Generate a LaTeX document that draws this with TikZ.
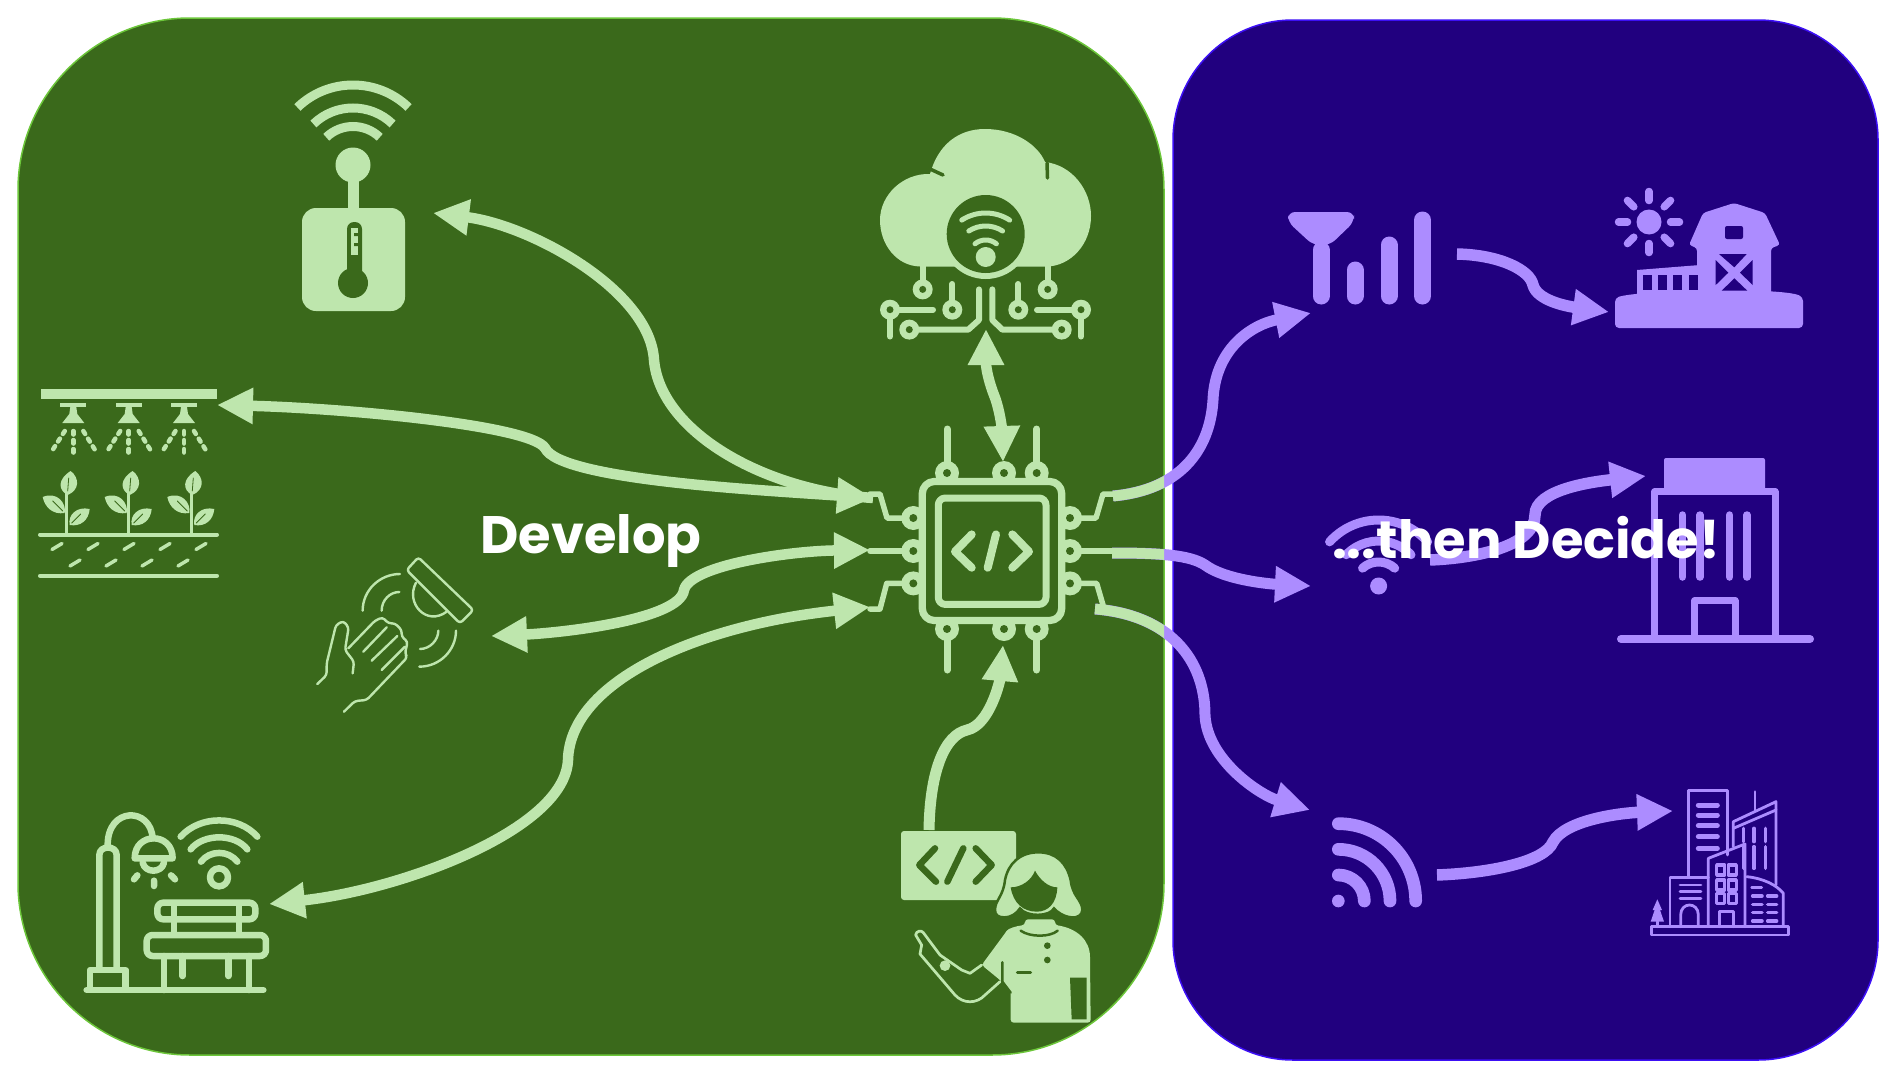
\documentclass[tikz,border=0pt]{standalone}
\usepackage{fontspec}
\usetikzlibrary{arrows.meta,positioning}
\newfontfamily\labelfont{Poppins}
\definecolor{leaf}{HTML}{BEE6AD}
\definecolor{field}{HTML}{3A691B}
\definecolor{fieldedge}{HTML}{6CC63A}
\definecolor{dusk}{HTML}{21007F}
\definecolor{duskedge}{HTML}{3C0FF5}
\definecolor{lilac}{HTML}{AC8CFF}
\tikzset{
  greenpanel/.style={draw=fieldedge,fill=field,line width=1.5pt,rounded corners=172pt,inner sep=0pt},
  bluepanel/.style={draw=duskedge,fill=dusk,line width=1.5pt,rounded corners=120pt,inner sep=0pt},
  headline/.style={text=white,font=\labelfont\bfseries\fontsize{52.7}{56}\selectfont,inner sep=0pt},
  greenlink/.style={draw=leaf,line width=10.5pt},
  purplelink/.style={draw=lilac,line width=11pt},
  tipend/.style={-{Triangle[length=36pt,width=34pt]}},
  tipboth/.style={{Triangle[length=36pt,width=34pt]}-{Triangle[length=36pt,width=34pt]}},
  gline/.style={draw=leaf,line cap=round,line join=round},
  pline/.style={draw=lilac,line cap=round,line join=round},
  dline/.style={draw=field,line cap=round,line join=round},
}
\newcommand{\sigpath}{(chipright1) .. controls (1180,490) and (1210,450) .. (1213,400) .. controls (1215,350) and (1250,325) .. (signaltip)}
\newcommand{\wifipath}{(chipright2) .. controls (1160,553) and (1190,555) .. (1205,565) .. controls (1225,580) and (1270,584) .. (wifitip)}
\newcommand{\rsspath}{(chipright3) .. controls (1170,615) and (1205,660) .. (1205,715) .. controls (1207,760) and (1260,795) .. (rsstip)}
\begin{document}
\begin{tikzpicture}[x=1pt,y=-1pt]
  \useasboundingbox (0,0) rectangle (1896,1076);
  \node[greenpanel,minimum width=1146pt,minimum height=1037pt] (devpanel) at (591,536.5) {};
  \node[bluepanel,minimum width=705pt,minimum height=1040pt] (decpanel) at (1525.5,540) {};

  \coordinate (chipleft1) at (873,498);
  \coordinate (chipleft2) at (870,550);
  \coordinate (chipleft3) at (870,607);
  \coordinate (chiptop) at (1003,462);
  \coordinate (chipbottom) at (1003,645);
  \coordinate (chipright1) at (1113,496);
  \coordinate (chipright2) at (1112,553);
  \coordinate (chipright3) at (1095,609);
  \coordinate (thermotip) at (433,213);
  \coordinate (sprinklertip) at (217,405);
  \coordinate (handtip) at (491,636);
  \coordinate (benchtip) at (269,904);
  \coordinate (cloudtip) at (986,329);
  \coordinate (boxtop) at (929,830);
  \coordinate (signaltip) at (1311,313);
  \coordinate (wifitip) at (1311,586);
  \coordinate (rsstip) at (1310,810);
  \coordinate (signalout) at (1457,254);
  \coordinate (barntip) at (1609,312);
  \coordinate (wifiout) at (1430,560);
  \coordinate (officetip) at (1646,476);
  \coordinate (rssout) at (1437,875);
  \coordinate (citytip) at (1673,811);

  \draw[greenlink,tipend] (chipleft1) .. controls (760,490) and (660,430) .. (654,360) .. controls (650,290) and (530,225) .. (thermotip);
  \draw[greenlink,tipboth] (sprinklertip) .. controls (340,408) and (530,425) .. (545,448) .. controls (560,480) and (760,490) .. (chipleft1);
  \draw[greenlink,tipboth] (handtip) .. controls (560,633) and (680,620) .. (684,590) .. controls (690,565) and (790,551) .. (chipleft2);
  \draw[greenlink,tipboth] (benchtip) .. controls (400,890) and (565,830) .. (568,760) .. controls (570,680) and (700,625) .. (chipleft3);
  \draw[greenlink,tipboth] (cloudtip) .. controls (986,370) and (990,385) .. (994,395) .. controls (1000,410) and (1002,430) .. (chiptop);
  \draw[greenlink,tipend,line width=11pt] (boxtop) .. controls (930,770) and (945,735) .. (967,730) .. controls (990,725) and (1000,680) .. (chipbottom);

  \draw[purplelink,tipend] \sigpath;
  \draw[purplelink,tipend] \wifipath;
  \draw[purplelink,tipend] \rsspath;
  \begin{scope}
    \clip (0,0) rectangle (1164,1076);
    \draw[greenlink] \sigpath;
    \draw[greenlink] \wifipath;
    \draw[greenlink] \rsspath;
  \end{scope}
  \draw[purplelink,tipend,line width=11.5pt] (signalout) .. controls (1500,255) and (1530,270) .. (1533,285) .. controls (1537,300) and (1565,306) .. (barntip);
  \draw[purplelink,tipend,line width=11.5pt] (wifiout) .. controls (1480,558) and (1535,545) .. (1535,515) .. controls (1535,490) and (1590,482) .. (officetip);
  \draw[purplelink,tipend,line width=11.5pt] (rssout) .. controls (1490,873) and (1545,862) .. (1553,842) .. controls (1565,820) and (1620,813) .. (citytip);

  % thermometer
  \foreach \r in {80,57,38.5}
    \draw[draw=leaf,line width=9pt] (353,165) ++(226:\r) arc[start angle=226,end angle=314,radius=\r];
  \fill[leaf] (353,165) circle[radius=17.5];
  \fill[leaf] (348,165) rectangle (359,210);
  \fill[leaf,rounded corners=14pt] (302,208) rectangle (405,311);
  \fill[field,rounded corners=7pt] (347,222) rectangle (362,285);
  \fill[field] (353,283) circle[radius=15];
  \fill[leaf] (351,228) rectangle (358,255);
  \fill[field] (354,233) rectangle (358,236) (354,243) rectangle (358,246);

  % sprinkler
  \fill[leaf] (41,389) rectangle (217,399);
  \foreach \x in {73.3,128.7,184} {
    \fill[leaf] ({\x-13},403) rectangle ({\x+13},407);
    \fill[leaf] ({\x-3},407) -- ({\x+3},407) -- ({\x+4},414) -- ({\x+11},423) -- ({\x-11},423) -- ({\x-4},414) -- cycle;
    \draw[gline,line width=4.5pt,dash pattern=on 3.5pt off 5.5pt] (\x,431) -- (\x,453);
    \draw[gline,line width=4.5pt,dash pattern=on 3.5pt off 5.5pt] ({\x-8.5},431) -- ({\x-22},452);
    \draw[gline,line width=4.5pt,dash pattern=on 3.5pt off 5.5pt] ({\x+10},431) -- ({\x+23},452);
  }
  \foreach \x in {66.7,128.7,191.3} {
    \draw[draw=leaf,line width=3pt] (\x,490) -- (\x,534);
    \fill[leaf] ({\x+4},471) .. controls ({\x+13},478) and ({\x+13},490) .. ({\x+1},495) .. controls ({\x-9},490) and ({\x-9},479) .. ({\x+4},471) -- cycle;
    \fill[leaf] ({\x-24},497) .. controls ({\x-10},491) and ({\x},503) .. ({\x-2},513) .. controls ({\x-14},515) and ({\x-22},507) .. ({\x-24},497) -- cycle;
    \fill[leaf] ({\x+23},509) .. controls ({\x+10},506) and ({\x+1},515) .. ({\x+3},525) .. controls ({\x+14},527) and ({\x+22},520) .. ({\x+23},509) -- cycle;
    \draw[dline,line width=.8pt] ({\x-14},501) -- ({\x-4},511) ({\x+14},514) -- ({\x+5},523) ({\x+2},478) -- ({\x+1},491);
  }
  \draw[gline,line width=4pt] (40,534.6) -- (217,534.6) (40,575.7) -- (217,575.7);
  \foreach \x in {57,93,129,165,201}
    \draw[gline,line width=3.5pt] ({\x-5},549.5) -- ({\x+5},543.5);
  \foreach \x in {75,111,147,183}
    \draw[gline,line width=3.5pt] ({\x-5},566) -- ({\x+5},560);

  % hand
  \begin{scope}[shift={(60,540)},scale=1/3]
    \draw[gline,line width=2.4pt,rounded corners=3pt] (1075,52) -- (1240,210) -- (1200,250) -- (1040,90) -- cycle;
    \draw[gline,line width=2.4pt] (1068,128) .. controls (1035,190) and (1100,260) .. (1160,215);
    \draw[gline,line width=2.4pt] (1020,102) .. controls (960,102) and (908,150) .. (908,212);
    \draw[gline,line width=2.4pt] (1018,156) .. controls (990,156) and (965,180) .. (965,212);
    \draw[gline,line width=2.4pt] (1078,380) .. controls (1140,380) and (1188,330) .. (1188,272);
    \draw[gline,line width=2.4pt] (1080,327) .. controls (1110,327) and (1135,300) .. (1135,272);
    \draw[gline,line width=2.4pt,rounded corners=3pt] (772,432) -- (800,405) -- (800,370) -- (828,255) -- (850,243) -- (866,262) -- (855,330) -- (882,365) -- (878,400);
    \draw[gline,line width=2.4pt,rounded corners=3pt] (865,325) -- (945,242) -- (968,232) -- (985,250) -- (1005,250) -- (1025,270) -- (1025,290) -- (1043,305) -- (1035,340) -- (1042,352) -- (920,480) -- (885,483) -- (852,515);
    \draw[gline,line width=2.4pt] (910,335) -- (980,262) (935,362) -- (1012,288) (965,390) -- (1035,320);
  \end{scope}

  % lamp and bench
  \begin{scope}[shift={(60,540)},scale=1/3,line width=6.5pt]
    \draw[gline] (118,1285) -- (118,945) .. controls (118,915) and (170,915) .. (170,945) -- (170,1285);
    \draw[gline] (90,1345) -- (90,1290) -- (197,1290) -- (197,1345);
    \draw[gline] (80,1350) -- (610,1350);
    \draw[gline] (143,915) .. controls (143,800) and (272,800) .. (278,895);
    \draw[gline] (224,955) .. controls (224,875) and (338,875) .. (338,955) -- cycle;
    \draw[gline] (248,968) .. controls (255,1000) and (305,1000) .. (312,968);
    \draw[gline] (222,1018) -- (232,1006) (282,1022) -- (282,1038) (333,1006) -- (345,1018);
    \draw[gline] (477,1012) circle[radius=27];
    \draw[gline] (423,965) .. controls (450,930) and (505,930) .. (532,965);
    \draw[gline] (392,928) .. controls (430,880) and (525,880) .. (562,928);
    \draw[gline] (362,890) .. controls (420,825) and (535,825) .. (592,890);
    \draw[gline,rounded corners=6pt] (292,1088) rectangle (586,1138);
    \draw[gline] (342,1095) -- (342,1180) (537,1095) -- (537,1180);
    \draw[gline,rounded corners=6pt] (260,1185) rectangle (618,1248);
    \draw[gline] (312,1248) -- (312,1350) (567,1248) -- (567,1350);
    \draw[gline] (368,1248) -- (368,1308) (505,1248) -- (505,1308);
  \end{scope}

  % cloud
  \fill[leaf] (920,266.5) .. controls (897,266) and (880,245) .. (880,220) .. controls (880,195) and (903,173) .. (930,174) .. controls (938,145) and (958,129) .. (985,129) .. controls (1015,129) and (1038,145) .. (1045,162) .. controls (1072,165) and (1091,190) .. (1091,216) .. controls (1091,245) and (1070,266) .. (1047,266.5) -- cycle;
  \draw[dline,line width=3.5pt] (930,169) -- (943,175) (1047,163) -- (1047.5,178);
  \fill[leaf] (985.7,234) circle[radius=45];
  \fill[field] (985.7,234) circle[radius=39];
  \fill[leaf] (985.7,257) circle[radius=10];
  \foreach \r/\a in {44/33,31/33,17/39}
    \draw[gline,line width=5pt] (985.7,257) ++({270-\a}:\r) arc[start angle={270-\a},end angle={270+\a},radius=\r];
  \draw[gline,line width=6pt] (922.7,266) -- (922.7,289) (1047.7,266) -- (1047.7,289);
  \draw[gline,line width=6pt] (952.3,284) -- (952.3,309) (1018.3,284) -- (1018.3,309);
  \draw[gline,line width=6pt] (933,309.7) -- (890,309.7) -- (890,336.5);
  \draw[gline,line width=6pt] (1037,309.7) -- (1081,309.7) -- (1081,336.5);
  \draw[gline,line width=6pt] (909.3,329.6) -- (968.3,329.6) -- (979,320) -- (979,289.4);
  \draw[gline,line width=6pt] (1061.7,329.6) -- (1002.3,329.6) -- (992.3,320) -- (992.3,289.4);
  \foreach \x/\y in {922.7/289.4,1047.7/289.4,952.3/309.7,1018.3/309.7,890/309.7,1081/309.7,909.3/329.6,1061.7/329.6} {
    \fill[leaf] (\x,\y) circle[radius=10];
    \fill[field] (\x,\y) circle[radius=3.5];
  }

  % chip
  \draw[gline,line width=7pt] (947,429) -- (947,473) (1036.7,429) -- (1036.7,473);
  \draw[gline,line width=7pt] (947,629) -- (947,670) (1036.7,629) -- (1036.7,670);
  \draw[gline,line width=5.5pt] (903,518) -- (887,518) -- (880,494) -- (870,494);
  \draw[gline,line width=5.5pt] (903,551) -- (870,551);
  \draw[gline,line width=5.5pt] (903,583.4) -- (886.7,583.4) -- (880,609) -- (870,609);
  \draw[gline,line width=5.5pt] (1080,518) -- (1096,518) -- (1103,494) -- (1113,494);
  \draw[gline,line width=5.5pt] (1080,551) -- (1112,551);
  \draw[gline,line width=5.5pt] (1080,583.4) -- (1096.7,583.4) -- (1103,605) -- (1103,612);
  \foreach \x/\y in {947/473,1004/473,1036.7/473,947/629,1004/629,1036.7/629,913.3/518,913.3/551,913.3/583.4,1070/518,1070/551,1070/583.4} {
    \fill[leaf] (\x,\y) circle[radius=12];
    \fill[field] (\x,\y) circle[radius=4];
  }
  \draw[gline,fill=field,line width=7.3pt,rounded corners=12pt] (922.3,481.5) rectangle (1061.7,620.5);
  \draw[gline,line width=7pt,rounded corners=7pt] (938.3,498) rectangle (1046,604.4);
  \draw[gline,line width=8pt] (971.7,534.4) -- (955,551.6) -- (971.7,567.7);
  \draw[gline,line width=8pt] (996,534.4) -- (987.7,567.7);
  \draw[gline,line width=8pt] (1012.3,534.4) -- (1029,551.6) -- (1012.3,567.7);

  % developer
  \begin{scope}[shift={(880,800)},scale=1/3]
    \fill[leaf,rounded corners=3pt] (63,93) rectangle (408,300);
    \draw[dline,line width=6.5pt] (165,145) -- (118,195) -- (168,245);
    \draw[dline,line width=6.5pt] (250,145) -- (202,245);
    \draw[dline,line width=6.5pt] (287,145) -- (335,195) -- (287,245);
    \draw[fill=leaf,draw=field,line width=2.5pt] (345,330) .. controls (345,300) and (370,290) .. (375,240) .. controls (385,190) and (420,157) .. (475,157) .. controls (530,157) and (560,190) .. (572,240) .. controls (577,290) and (607,300) .. (607,330) .. controls (607,345) and (590,355) .. (575,352) .. controls (550,350) and (530,335) .. (522,325) .. controls (510,350) and (440,352) .. (420,325) .. controls (410,340) and (395,352) .. (372,352) .. controls (355,352) and (345,345) .. (345,330) -- cycle;
    \fill[field] (392,262) .. controls (425,262) and (455,240) .. (465,212) .. controls (480,240) and (505,262) .. (532,262) .. controls (530,310) and (505,335) .. (470,335) .. controls (430,335) and (400,310) .. (392,262) -- cycle;
    \fill[leaf,rounded corners=3pt] (435,375) -- (435,358) -- (525,358) -- (525,375) .. controls (590,385) and (630,420) .. (630,480) -- (632,668) -- (392,668) -- (392,575) -- (360,540) -- (305,495) -- (375,400) .. controls (385,385) and (410,378) .. (435,375) -- cycle;
    \fill[field] (570,533) -- (620,533) -- (620,658) -- (575,658) -- cycle;
    \fill[field] (502,437) circle[radius=10] (502,480) circle[radius=10];
    \draw[dline,line width=3pt] (412,516) -- (452,516);
    \draw[dline,line width=2.5pt] (422,392) .. controls (450,412) and (510,412) .. (533,392);
    \draw[dline,line width=2.5pt] (367,487) -- (367,545) -- (392,578);
    \draw[gline,line width=2.7pt] (305,495) -- (270,520) -- (245,510) -- (180,465) -- (130,398) .. controls (125,390) and (108,392) .. (107,405) -- (125,435) -- (120,462) -- (225,585) .. controls (250,612) and (290,612) .. (315,585) -- (360,545);
    \fill[leaf] (195,497) circle[radius=16];
  \end{scope}

  % tower signal
  \draw[pline,line width=17pt] (1321,250) -- (1321,296);
  \fill[lilac,rounded corners=7pt] (1288,212) -- (1354,212) -- (1354,222) -- (1330,245) -- (1313,245) -- (1288,222) -- cycle;
  \draw[pline,line width=17pt] (1355,270) -- (1355,296) (1389,245) -- (1389,296) (1422.5,220) -- (1422.5,296);

  % barn
  \fill[lilac] (1649,222) circle[radius=12.5];
  \foreach \a in {0,45,...,315}
    \draw[pline,line width=7.5pt] (1649,222) ++(\a:21.5) -- ++(\a:9);
  \fill[lilac,rounded corners=3pt] (1734,203) -- (1765,213) -- (1780,245) -- (1771,248) -- (1771,295) -- (1697,295) -- (1697,248) -- (1689,245) -- (1703,213) -- cycle;
  \fill[lilac,rounded corners=4pt] (1615,328) -- (1615,298) .. controls (1640,290) and (1780,287) .. (1803,297) -- (1803,328) -- cycle;
  \fill[lilac] (1637,270) -- (1700,265) -- (1700,295) -- (1637,295) -- cycle;
  \foreach \x in {1642.7,1657.7,1673.3,1688.7}
    \fill[dusk] (\x,274.5) rectangle ({\x+9},289.5);
  \fill[dusk,rounded corners=2pt] (1725,226) rectangle (1743,239);
  \fill[dusk] (1719,254) -- (1746.7,254) -- (1734.3,267.3) -- cycle;
  \fill[dusk] (1715.7,260) -- (1715.7,285) -- (1728.3,272.7) -- cycle;
  \fill[dusk] (1752.7,260) -- (1752.7,285) -- (1740,272.7) -- cycle;
  \fill[dusk] (1734.3,278.3) -- (1721.7,290.7) -- (1747.3,290.7) -- cycle;

  % wifi
  \fill[lilac] (1378.6,586) circle[radius=8.5];
  \foreach \r/\a in {24/42,45/46,66/48}
    \draw[pline,line width=9pt] (1378.6,586) ++({270-\a}:\r) arc[start angle={270-\a},end angle={270+\a},radius=\r];

  % office
  \fill[lilac,rounded corners=2pt] (1664,458) rectangle (1765,490);
  \draw[pline,line width=7pt] (1654.6,639) -- (1654.6,491.7) -- (1775,491.7) -- (1775,639);
  \draw[pline,line width=7pt] (1694.6,639) -- (1694.6,600.7) -- (1735,600.7) -- (1735,639);
  \draw[pline,line width=8pt] (1621,639) -- (1810,639);
  \foreach \x in {1682.5,1700,1729.6,1747}
    \draw[pline,line width=7.5pt] (\x,515) -- (\x,577);

  % rss
  \begin{scope}[shift={(1300,770)},scale=1/3]
    \fill[lilac] (115,393) circle[radius=19];
    \foreach \r in {78,155,232}
      \draw[pline,line width=12.7pt] (115,393) ++(270:\r) arc[start angle=270,end angle=360,radius=\r];
  \end{scope}

  % city
  \begin{scope}[shift={(1300,770)},scale=1/3,line width=2.8pt]
    \draw[pline] (1165,320) -- (1165,62) -- (1282,62) -- (1282,255);
    \foreach \y in {105,135,167,200,235}
      \draw[pline,line width=5pt] (1195,\y) -- (1252,\y);
    \draw[pline] (1300,230) -- (1300,155) -- (1428,95) -- (1428,345);
    \draw[pline] (1300,175) -- (1428,120);
    \draw[pline] (1365,65) -- (1365,122);
    \foreach \x in {1330,1362,1397} {
      \draw[pline,line width=3.5pt] (\x,175) -- (\x,215);
      \draw[pline,line width=3.5pt] (\x,230) -- (\x,295);
    }
    \draw[pline] (1225,470) -- (1225,265) -- (1335,222) -- (1335,470);
    \foreach \x in {1250,1285}
      \foreach \y in {285,330,370}
        \draw[pline,line width=3.5pt] (\x,\y) rectangle ({\x+24},{\y+30});
    \draw[pline] (1258,470) -- (1258,425) -- (1300,425) -- (1300,470);
    \draw[pline] (1225,322) -- (1110,322) -- (1110,470);
    \draw[pline] (1140,345) -- (1203,345) (1140,365) -- (1203,365) (1140,385) -- (1203,385);
    \draw[pline] (1142,470) -- (1142,435) .. controls (1142,395) and (1195,395) .. (1195,435) -- (1195,470);
    \draw[pline] (1340,320) .. controls (1390,325) and (1430,345) .. (1450,370) -- (1450,470);
    \draw[pline] (1355,352) -- (1385,352);
    \foreach \y in {378,403,428,453}
      \draw[pline,line width=3.5pt] (1358,\y) -- (1386,\y) (1403,\y) -- (1430,\y);
    \draw[pline] (1055,470) rectangle (1465,495);
    \fill[lilac] (1072,388) -- (1086,420) -- (1080,420) -- (1092,455) -- (1052,455) -- (1064,420) -- (1058,420) -- cycle;
    \draw[pline] (1072,455) -- (1072,470);
  \end{scope}

  \node[headline] (develop) at (591,541) {Develop};
  \node[headline] (decide) at (1526,538) {...then Decide!};
\end{tikzpicture}
\end{document}
